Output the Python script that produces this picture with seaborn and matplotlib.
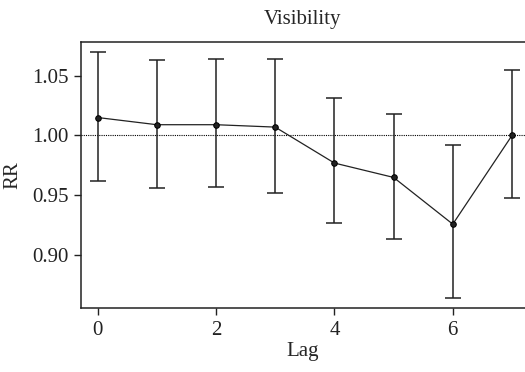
import numpy as np
import pandas as pd
import matplotlib
matplotlib.use("Agg")
import matplotlib.pyplot as plt
import seaborn as sns

# valeurs
lags = [0, 1, 2, 3, 4, 5, 6, 7]
rr = [1.015, 1.009, 1.009, 1.007, 0.977, 0.965, 0.926, 1.000]
rr_low = [0.962, 0.956, 0.957, 0.952, 0.927, 0.914, 0.864, 0.948]
rr_high = [1.070, 1.063, 1.064, 1.064, 1.031, 1.018, 0.992, 1.055]

df = pd.DataFrame({"Lag": lags, "RR": rr, "low": rr_low, "high": rr_high})

sns.set_style("ticks")
plt.rcParams['font.family'] = ['Liberation Serif', 'DejaVu Serif']

fig = plt.figure(figsize=(5.25, 3.72), dpi=100)
ax = fig.add_axes([0.1543, 0.172, 0.8457, 0.715])

# ligne de référence
ax.axhline(1.0, color="black", linestyle=(0, (1, 1)), linewidth=0.8, zorder=1)

# intervalles de confiance
ax.errorbar(df["Lag"], df["RR"],
            yerr=[df["RR"] - df["low"], df["high"] - df["RR"]],
            fmt="none", ecolor="#222222", elinewidth=1.1, capsize=6, capthick=1.1, zorder=2)

sns.lineplot(data=df, x="Lag", y="RR", ax=ax, color="#222222", linewidth=0.9,
             marker="o", markersize=4, markeredgecolor="black", zorder=3)

ax.set_xlim(-0.28, 7.22)
ax.set_ylim(0.856, 1.078)
ax.set_xticks([0, 2, 4, 6])
ax.set_yticks([0.90, 0.95, 1.00, 1.05])
ax.set_yticklabels(["0.90", "0.95", "1.00", "1.05"])

for side in ["left", "bottom", "top"]:
    ax.spines[side].set_linewidth(1.1)
    ax.spines[side].set_color("#222222")
ax.spines["right"].set_visible(False)
ax.tick_params(axis="both", direction="out", length=5, width=1.0, labelsize=15,
               colors="#222222", pad=4)

ax.set_title("Visibility", fontsize=15, pad=13)
ax.set_xlabel("Lag", fontsize=15, labelpad=2)
ax.set_ylabel("RR", fontsize=15, labelpad=7)

fig.savefig("out.png", dpi=100)
